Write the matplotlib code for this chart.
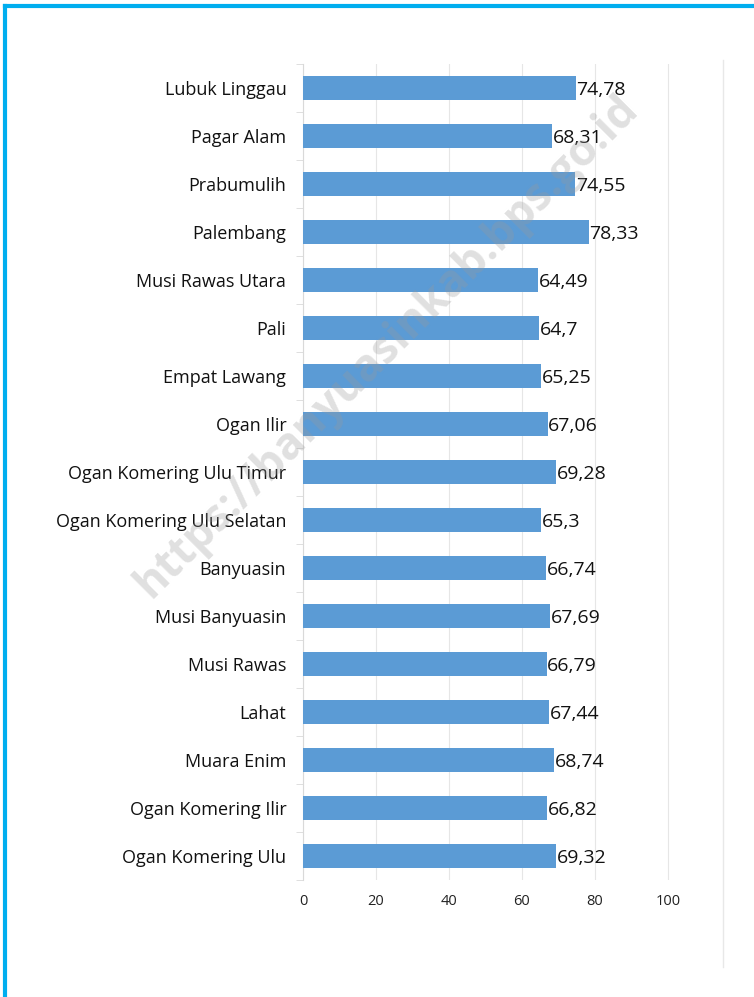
import matplotlib
matplotlib.use("Agg")
import matplotlib.pyplot as plt
from matplotlib.lines import Line2D
import numpy as np

# top-to-bottom order as shown in the chart
regions = ["Lubuk Linggau", "Pagar Alam", "Prabumulih", "Palembang", "Musi Rawas Utara",
           "Pali", "Empat Lawang", "Ogan Ilir", "Ogan Komering Ulu Timur",
           "Ogan Komering Ulu Selatan", "Banyuasin", "Musi Banyuasin", "Musi Rawas",
           "Lahat", "Muara Enim", "Ogan Komering Ilir", "Ogan Komering Ulu"]
values = [74.78, 68.31, 74.55, 78.33, 64.49, 64.7, 65.25, 67.06, 69.28,
          65.3, 66.74, 67.69, 66.79, 67.44, 68.74, 66.82, 69.32]
xticks = [0, 20, 40, 60, 80, 100]

plt.rcParams["font.family"] = ["Open Sans", "DejaVu Sans"]
W, H = 754, 997
fig = plt.figure(figsize=(W / 100, H / 100), dpi=100)
ax = fig.add_axes([303 / W, 1 - 880 / H, 383 / W, (880 - 64) / H])

y = np.arange(len(regions))
ax.barh(y, values, height=0.5, color="#5B9BD5", zorder=3)
for yi, v in zip(y, values):
    ax.text(v + 0.2, yi + 0.04, f"{v:g}".replace(".", ","), va="center", ha="left",
            fontsize=14, color="#111111", zorder=4)

ax.set_ylim(len(regions) - 0.5, -0.5)
ax.set_xlim(0, 105)
ax.set_yticks(y)
ax.set_yticklabels(regions, fontsize=13, color="#111111")
ax.set_yticks(np.arange(-0.5, len(regions), 1), minor=True)
ax.tick_params(axis="y", which="major", length=0, pad=12)
ax.tick_params(axis="y", which="minor", length=5, color="#d9d9d9")
ax.set_xticks(xticks)
ax.tick_params(axis="x", length=0, labelsize=10.5, labelcolor="#222222", pad=10)
ax.grid(axis="x", color="#e6e6e6", linewidth=0.8, zorder=0)
for s in ["top", "right", "bottom"]:
    ax.spines[s].set_visible(False)
ax.spines["left"].set_color("#d9d9d9")

# decorative frame + right divider
fig.add_artist(Line2D([5 / W, 5 / W], [0, 1 - 6 / H], color="#00AEEF", linewidth=3))
fig.add_artist(Line2D([5 / W, 1], [1 - 6 / H, 1 - 6 / H], color="#00AEEF", linewidth=3))
fig.add_artist(Line2D([723 / W, 723 / W], [1 - 967 / H, 1 - 60 / H], color="#e8e8e8", linewidth=1))

# watermark
fig.text(387 / W, 1 - 347 / H, "https://banyuasinkab.bps.go.id", rotation=45,
         ha="center", va="center", fontsize=32, fontweight="bold",
         color="#9a9a9a", alpha=0.3, zorder=10)

fig.savefig("out.png", dpi=100)
